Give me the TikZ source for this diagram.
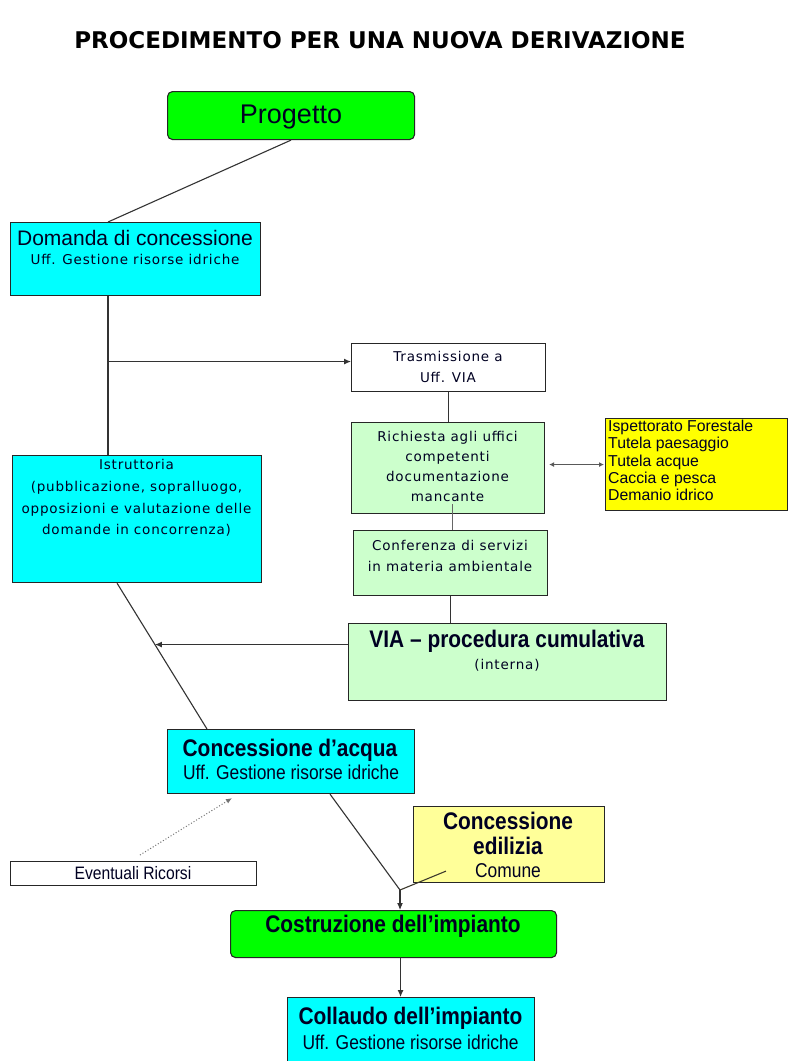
\documentclass[tikz,border=0pt]{standalone}
\usepackage{fontspec}
\setmainfont{Liberation Sans}
\newfontfamily\spc[LetterSpace=6]{DejaVu Sans}
\newfontfamily\nar[FakeStretch=0.87]{Liberation Sans}
\newfontfamily\ttl{DejaVu Sans}
\usetikzlibrary{arrows.meta,calc}
\definecolor{cgreen}{HTML}{00FF00}
\definecolor{ccyan}{HTML}{00FFFF}
\definecolor{lgreen}{HTML}{CCFFCC}
\definecolor{cyell}{HTML}{FFFF00}
\definecolor{lyell}{HTML}{FFFF99}
\definecolor{ink}{HTML}{000022}
\begin{document}
\begin{tikzpicture}[x=1pt,y=-1pt,
  box/.style={draw=black!85, line width=1.1pt, inner sep=0pt, anchor=north west},
  rbox/.style={box, rounded corners=5pt},
  txt/.style={inner sep=0pt, text=ink, align=center},
  conn/.style={draw=black!80, line width=1.1pt},
  arr/.style={conn, -{Latex[length=7pt,width=6pt]}},
  sp/.style={font=\spc\fontsize{13.5}{21}\selectfont},
  hd/.style={font=\nar\bfseries\fontsize{24}{26}\selectfont},
  nr/.style={font=\nar\fontsize{20}{22}\selectfont}]
\useasboundingbox (0,0) rectangle (788,1061);
\fill[white] (0,0) rectangle (788,1061);

% title
\node[txt, text=black, font=\ttl\bfseries\fontsize{23}{26}\selectfont] (title) at (380,40) {PROCEDIMENTO PER UNA NUOVA DERIVAZIONE};

% boxes
\node[rbox, fill=cgreen, minimum width=247pt, minimum height=48pt] (prog) at (167,91) {};
\node[txt, font=\fontsize{27}{28}\selectfont] (progt) at (291,117) {Progetto};

\node[box, fill=ccyan, minimum width=250pt, minimum height=73pt] (dom) at (10,222) {};
\node[txt, font=\fontsize{21}{22}\selectfont] (domt1) at (135,238) {Domanda di concessione};
\node[txt, sp] (domt2) at (135,259) {Uff. Gestione risorse idriche};

\node[box, fill=white, minimum width=194pt, minimum height=48pt] (tra) at (351,343) {};
\node[txt, sp] (trat) at (448,367) {Trasmissione a\\Uff. VIA};

\node[box, fill=lgreen, minimum width=193pt, minimum height=91pt] (ric) at (351,422) {};
\node[txt, sp, font=\spc\fontsize{13.5}{20}\selectfont] (rict) at (447.5,466) {Richiesta agli uffici\\competenti\\documentazione\\mancante};

\node[box, fill=cyell, minimum width=182pt, minimum height=92pt] (yel) at (605,418) {};
\node[txt, align=left, anchor=north west, font=\fontsize{15.8}{17.3}\selectfont] (yelt) at (608,420) {Ispettorato Forestale\\Tutela paesaggio\\Tutela acque\\Caccia e pesca\\Demanio idrico};

\node[box, fill=ccyan, minimum width=249pt, minimum height=127pt] (ist) at (12,455) {};
\node[txt, sp, font=\spc\fontsize{13.5}{21.7}\selectfont] (istt) at (136.5,498) {Istruttoria\\(pubblicazione, sopralluogo,\\opposizioni e valutazione delle\\domande in concorrenza)};

\node[box, fill=lgreen, minimum width=194pt, minimum height=65pt] (conf) at (353,530) {};
\node[txt, sp] (conft) at (450,556) {Conferenza di servizi\\in materia ambientale};

\node[box, fill=lgreen, minimum width=318pt, minimum height=77pt] (via) at (348,623) {};
\node[txt, hd] (viat1) at (507,641) {VIA – procedura cumulativa};
\node[txt, sp] (viat2) at (507,665) {(interna)};

\node[box, fill=ccyan, minimum width=247pt, minimum height=64pt] (con) at (167,729) {};
\node[txt, hd] (cont1) at (290,750) {Concessione d’acqua};
\node[txt, nr] (cont2) at (291,772) {Uff. Gestione risorse idriche};

\node[box, fill=lyell, minimum width=191pt, minimum height=76pt] (edi) at (413,806) {};
\node[txt, hd] (edit1) at (508,821) {Concessione};
\node[txt, hd] (edit2) at (508,846) {edilizia};
\node[txt, nr] (edit3) at (508,871) {Comune};

\node[box, fill=white, minimum width=246pt, minimum height=24pt] (ricors) at (10,861) {};
\node[txt, font=\nar\fontsize{18}{20}\selectfont] (ricorst) at (133,873) {Eventuali Ricorsi};

\node[rbox, fill=cgreen, minimum width=326pt, minimum height=47pt] (cos) at (230,910) {};
\node[txt, hd] (cost) at (393,926) {Costruzione dell’impianto};

\node[box, fill=ccyan, minimum width=247pt, minimum height=70pt] (col) at (287,997) {};
\node[txt, hd] (colt1) at (410.5,1018) {Collaudo dell’impianto};
\node[txt, nr] (colt2) at (410.5,1042) {Uff. Gestione risorse idriche};

% connectors
\coordinate (jx) at ([xshift=98pt]dom.south west);
\draw[conn] (prog.south) -- ([xshift=98pt]dom.north west);
\draw[conn] (jx) -- (jx |- ist.north);
\coordinate (tw) at ([yshift=6pt]tra.west);
\draw[arr] (jx |- tw) -- (tw);
\draw[conn] (tra.south) -- (tra.south |- ric.north);
\coordinate (cn) at ([xshift=2pt]conf.north);
\coordinate (rs) at ([yshift=10pt]ric.south);
\draw[conn, draw=black!60] (cn) -- (cn |- rs);
\draw[conn] (conf.south) -- (conf.south |- via.north);
\coordinate (ye) at ([xshift=4pt]ric.east);
\draw[conn, draw=black!65, {Latex[length=5pt,width=5pt]}-{Latex[length=5pt,width=5pt]}] (yel.west -| ye) -- ([xshift=-1pt]yel.west);

\coordinate (ib) at ([xshift=105pt]ist.south west);
\coordinate (ct) at ([xshift=40pt]con.north west);
\draw[conn] (ib) -- (ct);
\coordinate (vw) at ([yshift=17.5pt]via.west);
\coordinate (hit) at ($(ib)!0.4218!(ct)$);
\draw[arr] (vw) -- (vw -| hit);

\coordinate (jn) at ([xshift=170pt,yshift=20pt]cos.north west);
\draw[conn] ([xshift=163pt]con.south west) -- (jn);
\draw[conn, draw=black!75!olive] ([xshift=33pt,yshift=12pt]edi.south west) -- (jn);
\draw[arr] (jn) -- (jn |- cos.north);
\draw[draw=black!55, line width=1pt, dotted, -{Latex[length=6pt,width=5pt]}] ([xshift=130pt,yshift=6pt]ricors.north west) -- ([xshift=65pt,yshift=-4pt]con.south west);
\coordinate (cs) at ([xshift=7pt]cos.south);
\draw[arr] (cs) -- (cs |- col.north);
\end{tikzpicture}
\end{document}
